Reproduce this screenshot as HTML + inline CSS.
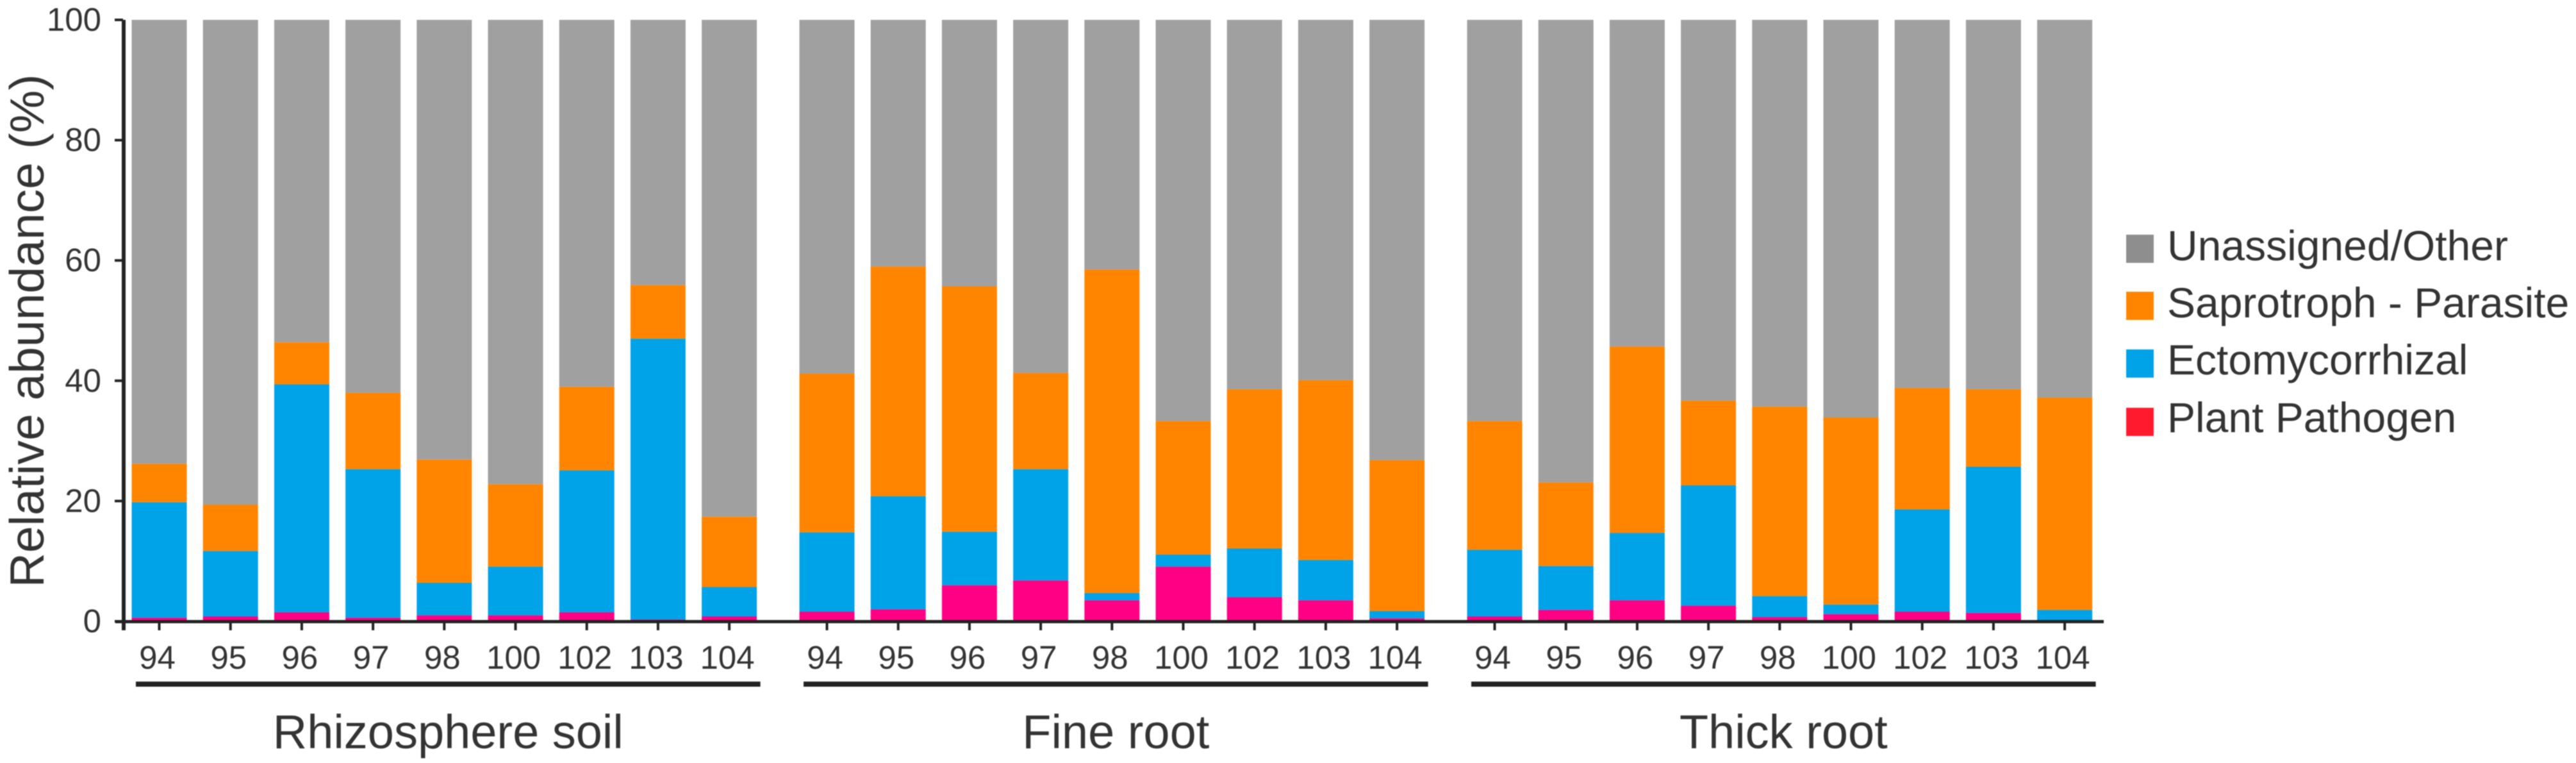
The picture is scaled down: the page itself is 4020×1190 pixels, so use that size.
<!DOCTYPE html>
<html lang="en">
<head>
<meta charset="utf-8">
<title>Relative abundance by fungal guild</title>
<style>
html,body{margin:0;padding:0;background:#fff;}
svg{display:block;filter:blur(0.7px);}
text{font-family:"Liberation Sans",Arial,sans-serif;fill:#333;}
</style>
</head>
<body>
<svg id="chart" xmlns="http://www.w3.org/2000/svg" width="4020" height="1190" viewBox="0 0 4020 1190">
  <text x="68" y="516" font-size="75" text-anchor="middle" transform="rotate(-90 68 516)">Relative abundance (%)</text>
  <g id="bars"></g>
  <g id="axes"></g>
  <g>
    <g>
      <rect x="3318" y="366" width="43" height="44" fill="#8e8e8e"></rect>
      <text x="3382" y="406" font-size="66">Unassigned/Other</text>
    </g>
    <g>
      <rect x="3318" y="455" width="43" height="44" fill="#ff8500"></rect>
      <text x="3382" y="495" font-size="66">Saprotroph - Parasite</text>
    </g>
    <g>
      <rect x="3318" y="545" width="43" height="44" fill="#00a2e8"></rect>
      <text x="3382" y="584" font-size="66">Ectomycorrhizal</text>
    </g>
    <g>
      <rect x="3318" y="636" width="43" height="44" fill="#ff1a2e"></rect>
      <text x="3382" y="674" font-size="66">Plant Pathogen</text>
    </g>
  </g>
</svg>
<script>
const samples = ["94","95","96","97","98","100","102","103","104"];
const groups = ["Rhizosphere soil","Fine root","Thick root"];
const yTicks = [0,20,40,60,80,100];

const plantPathogen = [
  0.6,0.8,1.5,0.6,1,1,1.5,0.3,0.8,
  1.6,2,6,6.8,3.5,9.1,4,3.5,0.5,
  0.8,1.9,3.5,2.6,0.7,1.2,1.6,1.4,0.2
];
const ectomycorrhizal = [
  19.2,10.9,37.9,24.7,5.4,8.1,23.6,46.7,4.9,
  13.2,18.8,8.9,18.5,1.2,2,8.1,6.7,1.2,
  11.1,7.3,11.2,20,3.5,1.6,17,24.3,1.7
];
const saprotroph = [
  6.4,7.7,7,12.7,20.5,13.7,13.9,8.9,11.7,
  26.4,38.2,40.8,16,53.8,22.2,26.5,29.9,25.1,
  21.4,13.9,31,14.1,31.5,31.1,20.2,12.9,35.3
];
const unassigned = [
  73.8,80.6,53.6,62,73.1,77.2,61,44.1,82.6,
  58.8,41,44.3,58.7,41.5,66.7,61.4,59.9,73.2,
  66.7,76.9,54.3,63.3,64.3,66.1,61.2,61.4,62.8
];

const NS = "http://www.w3.org/2000/svg";
const Y0 = 969, Y100 = 31;
const yScale = v => Y0 + (Y100 - Y0) * v / 100;
const groupOrigin = g => 248.5 + g * 1042;
const step = 111.2;
const barWidth = 86;
const xScale = (g, i) => groupOrigin(g) + i * step;

const barsLayer = document.getElementById("bars");
const axesLayer = document.getElementById("axes");

function rect(parent, x, y, w, h, fill) {
  const r = document.createElementNS(NS, "rect");
  r.setAttribute("x", x);
  r.setAttribute("y", y);
  r.setAttribute("width", w);
  r.setAttribute("height", h);
  r.setAttribute("fill", fill);
  parent.appendChild(r);
  return r;
}
function label(parent, x, y, size, anchor, str) {
  const t = document.createElementNS(NS, "text");
  t.setAttribute("x", x);
  t.setAttribute("y", y);
  t.setAttribute("font-size", size);
  t.setAttribute("text-anchor", anchor);
  t.textContent = str;
  parent.appendChild(t);
  return t;
}

const seriesList = [
  {key: "plant-pathogen", values: plantPathogen, color: "#ff0084"},
  {key: "ectomycorrhizal", values: ectomycorrhizal, color: "#00a2e8"},
  {key: "saprotroph", values: saprotroph, color: "#ff8500"},
  {key: "unassigned", values: unassigned, color: "#a0a0a0"}
];

groups.forEach((groupName, g) => {
  samples.forEach((sample, i) => {
    const idx = g * samples.length + i;
    const cx = xScale(g, i);
    let base = 0;
    seriesList.forEach(s => {
      const v = s.values[idx];
      const top = base + v;
      const seg = rect(barsLayer, cx - barWidth / 2, yScale(top), barWidth, yScale(base) - yScale(top), s.color);
      
      
      base = top;
    });

    const tick = rect(axesLayer, cx - 2, Y0, 4, 14, "#222");
    
    

    const tickLabel = label(axesLayer, cx - 3, 1043, 51, "middle", sample);
    
    
  });

  const first = xScale(g, 0);
  const last = xScale(g, samples.length - 1);
  const rule = rect(axesLayer, first - 36.5, 1063, last - first + 85, 8, "#222");
  
  

  const groupLabel = label(axesLayer, (first + last) / 2 + 6, 1167, 74, "middle", groupName);
  
  
});

const yAxis = rect(axesLayer, 190, yScale(100), 6, Y0 - yScale(100) + 14, "#222");



const xAxis = rect(axesLayer, 180, Y0 - 2, 3103, 5, "#222");



yTicks.forEach(v => {
  const y = yScale(v);
  const tick = rect(axesLayer, 179, y - 2, 13, 4, "#222");
  
  

  const tickLabel = label(axesLayer, 158, y + 17, 51, "end", String(v));
  
  
});
</script>
</body>
</html>
